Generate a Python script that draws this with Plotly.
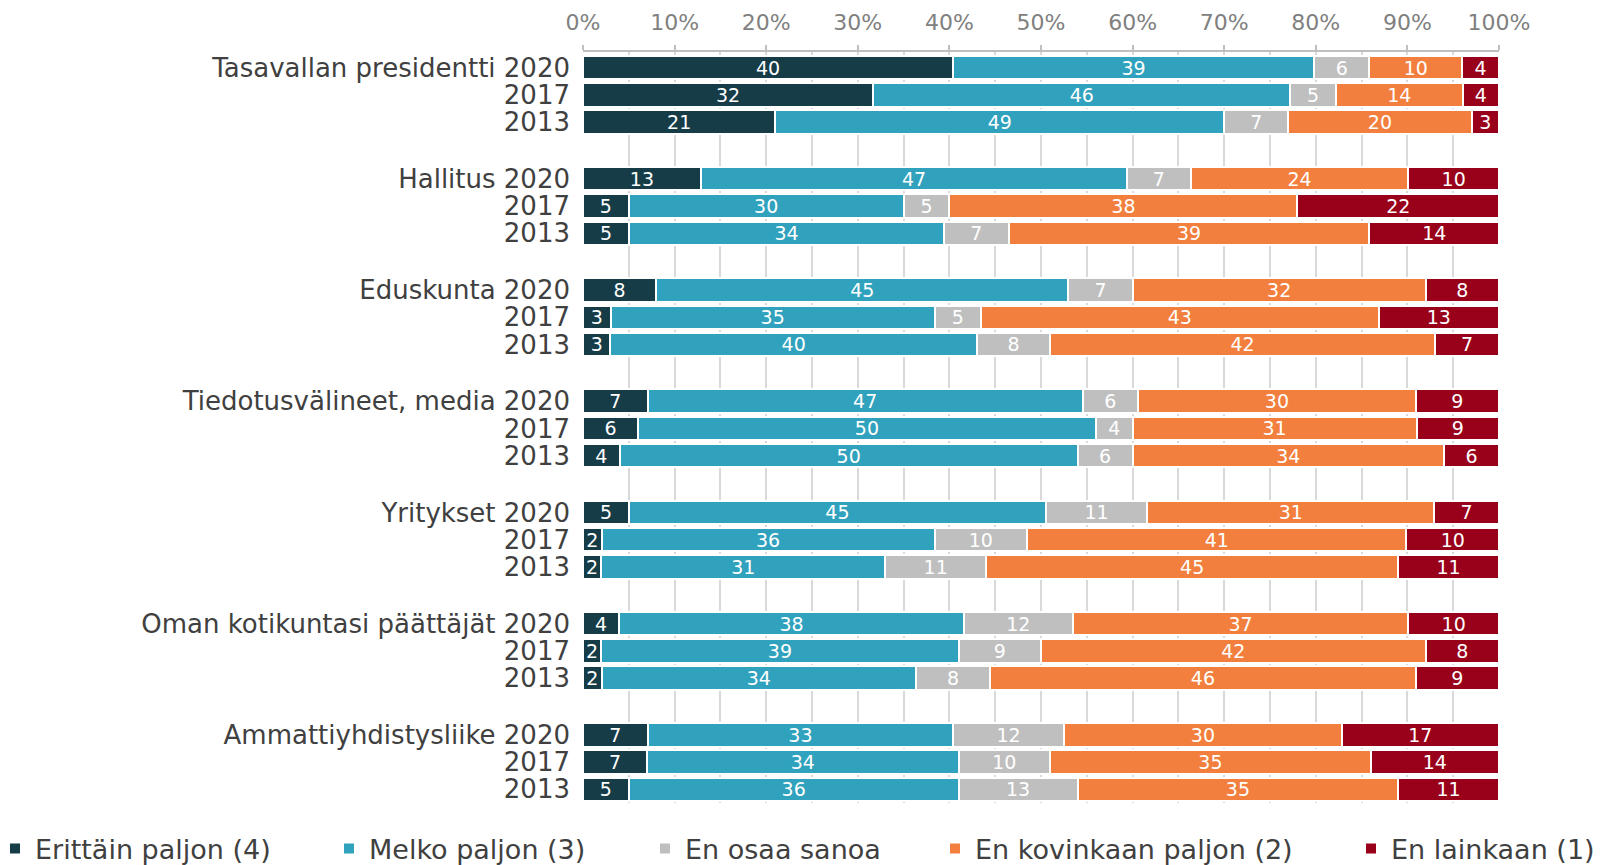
import plotly.graph_objects as go

groups = ["Tasavallan presidentti", "Hallitus", "Eduskunta", "Tiedotusvälineet, media",
          "Yritykset", "Oman kotikuntasi päättäjät", "Ammattiyhdistysliike"]
years = ["2020", "2017", "2013"]

series_names = ["Erittäin paljon (4)", "Melko paljon (3)", "En osaa sanoa",
                "En kovinkaan paljon (2)", "En lainkaan (1)"]
erittain = [40, 32, 21, 13, 5, 5, 8, 3, 3, 7, 6, 4, 5, 2, 2, 4, 2, 2, 7, 7, 5]
melko = [39, 46, 49, 47, 30, 34, 45, 35, 40, 47, 50, 50, 45, 36, 31, 38, 39, 34, 33, 34, 36]
eos = [6, 5, 7, 7, 5, 7, 7, 5, 8, 6, 4, 6, 11, 10, 11, 12, 9, 8, 12, 10, 13]
kovinkaan = [10, 14, 20, 24, 38, 39, 32, 43, 42, 30, 31, 34, 31, 41, 45, 37, 42, 46, 30, 35, 35]
lainkaan = [4, 4, 3, 10, 22, 14, 8, 13, 7, 9, 9, 6, 7, 10, 11, 10, 8, 9, 17, 14, 11]
colors = ["#163C48", "#31A2BD", "#BFBFBF", "#F27F3D", "#99001A"]
x_ticks = list(range(0, 101, 10))
x_ticktext = [f"{v}%" for v in x_ticks]

series = [erittain, melko, eos, kovinkaan, lainkaan]

# layout helpers
GROUP_STEP = 4.08
ypos, ylabels = [], []
for gi, g in enumerate(groups):
    for yi, yr in enumerate(years):
        ypos.append(gi * GROUP_STEP + yi)
        ylabels.append(f"{g} {yr}" if yi == 0 else yr)

FONT = "DejaVu Sans"
L, R, T, B = 583, 102, 52, 62
W, H = 1601, 865
pw, ph = W - L - R, H - T - B

legend_text_x = [35, 369, 685, 975, 1391]

fig = go.Figure()
for i, (name, vals, col) in enumerate(zip(series_names, series, colors)):
    fig.add_trace(go.Bar(
        y=ypos, x=vals, orientation="h", name=name,
        marker=dict(color=col, line=dict(color="white", width=2)),
        width=0.86,
        text=vals, texttemplate="%{text}", textposition="inside",
        insidetextanchor="middle", textangle=0, constraintext="none",
        textfont=dict(color="white", size=19, family=FONT),
        legend="legend" if i == 0 else f"legend{i+1}",
        hoverinfo="name+x",
    ))

layout_legends = {}
for i, tx in enumerate(legend_text_x):
    key = "legend" if i == 0 else f"legend{i+1}"
    layout_legends[key] = dict(
        x=(tx - 40 - L) / pw, xanchor="left",
        y=-(849 - (H - B)) / ph, yanchor="middle",
        orientation="h", font=dict(size=27, family=FONT, color="#404040"),
        bgcolor="rgba(0,0,0,0)", borderwidth=0,
    )

ymax = 6 * GROUP_STEP + 2
fig.update_layout(
    width=W, height=H,
    margin=dict(l=L, r=R, t=T, b=B, pad=0, autoexpand=False),
    paper_bgcolor="white", plot_bgcolor="white",
    barmode="stack", barnorm="percent",
    font=dict(family=FONT, color="#404040"),
    xaxis=dict(
        side="top", range=[0, 100], tickmode="array", tickvals=x_ticks, ticktext=x_ticktext,
        tickfont=dict(size=22, color="#808080", family=FONT),
        ticks="outside", ticklen=5, tickcolor="#BFBFBF", tickwidth=1.5,
        showline=True, linecolor="#BFBFBF", linewidth=1.5,
        showgrid=True, gridcolor="#D9D9D9", gridwidth=1.5,
        minor=dict(dtick=5, showgrid=True, gridcolor="#D9D9D9", gridwidth=1.5),
        zeroline=False, ticklabelstandoff=6, fixedrange=True,
    ),
    yaxis=dict(
        range=[ymax + 0.5, -0.57], tickvals=ypos, ticktext=ylabels,
        tickfont=dict(size=26, color="#404040", family=FONT),
        ticks="", showgrid=False, zeroline=False, showline=False,
        ticklabelstandoff=12, fixedrange=True,
    ),
    showlegend=True,
    **layout_legends,
)

fig.write_html(
    "out.html",
    config={"displayModeBar": False},
    post_script="document.body.style.margin='0';document.body.style.overflow='hidden';",
)
